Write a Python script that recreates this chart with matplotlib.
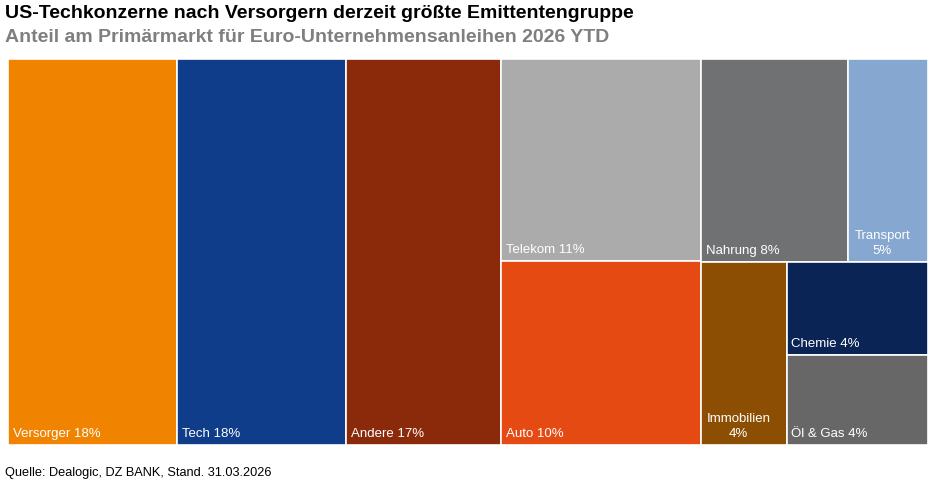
import matplotlib.pyplot as plt
from matplotlib.patches import Rectangle

plt.rcParams['font.family'] = ['Liberation Sans', 'DejaVu Sans']

# Anteil in Prozent
sectors = ["Versorger", "Tech", "Andere", "Telekom", "Auto", "Nahrung",
           "Transport", "Immobilien", "Chemie", "Öl & Gas"]
shares = [18.4, 18.4, 16.9, 11.4, 10.4, 8.4, 4.6, 4.4, 3.7, 3.6]
colors = ["#F08300", "#0F3D8A", "#8B2A0A", "#ABABAB", "#E44A12",
          "#707172", "#85A7D0", "#8C4E02", "#0A2555", "#676767"]

# Gruppierung der Kacheln (abwechselnd nebeneinander / untereinander)
groups = ["Versorger", "Tech", "Andere", ["Telekom", "Auto"],
          [["Nahrung", "Transport"], ["Immobilien", ["Chemie", "Öl & Gas"]]]]

title = "US-Techkonzerne nach Versorgern derzeit größte Emittentengruppe"
subtitle = "Anteil am Primärmarkt für Euro-Unternehmensanleihen 2026 YTD"
source = "Quelle: Dealogic, DZ BANK, Stand. 31.03.2026"

value = dict(zip(sectors, shares))
color = dict(zip(sectors, colors))


def total(node):
    if isinstance(node, str):
        return value[node]
    return sum(total(n) for n in node)


def layout(node, x, y, w, h, horizontal, out):
    if isinstance(node, str):
        out.append((node, x, y, w, h))
        return
    s = total(node)
    pos = x if horizontal else y
    for n in node:
        frac = total(n) / s
        if horizontal:
            layout(n, pos, y, w * frac, h, False, out)
            pos += w * frac
        else:
            layout(n, x, pos, w, h * frac, True, out)
            pos += h * frac


W, H = 941, 493
fig = plt.figure(figsize=(W / 100, H / 100), dpi=100)

left, top, right, bottom = 8, 59, 928, 445
ax = fig.add_axes([left / W, 1 - bottom / H, (right - left) / W, (bottom - top) / H])
ax.set_xlim(0, 1)
ax.set_ylim(1, 0)
ax.axis("off")

cells = []
layout(groups, 0, 0, 1, 1, True, cells)

for name, x, y, w, h in cells:
    ax.add_patch(Rectangle((x, y), w, h, facecolor=color[name],
                           edgecolor="white", linewidth=1.2))
    pct = "%d%%" % round(value[name])
    if w * (right - left) < 100:
        ax.annotate(name + "\n" + pct, (x + w / 2, y + h), xytext=(-4, 3.5),
                    textcoords="offset points", ha="center", va="bottom",
                    color="white", fontsize=9.5, linespacing=1.35)
    else:
        ax.annotate(name + " " + pct, (x, y + h), xytext=(3.5, 3.5),
                    textcoords="offset points", ha="left", va="bottom",
                    color="white", fontsize=9.5)

fig.text(5 / W, 1 - 5 / H, title, fontsize=14, fontweight="bold",
         color="black", ha="left", va="top")
fig.text(5 / W, 1 - 29 / H, subtitle, fontsize=14, fontweight="bold",
         color="#7F7F7F", ha="left", va="top")
fig.text(5 / W, 1 - 467 / H, source, fontsize=9.2, color="black",
         ha="left", va="top")

fig.savefig("out.png", dpi=100)
